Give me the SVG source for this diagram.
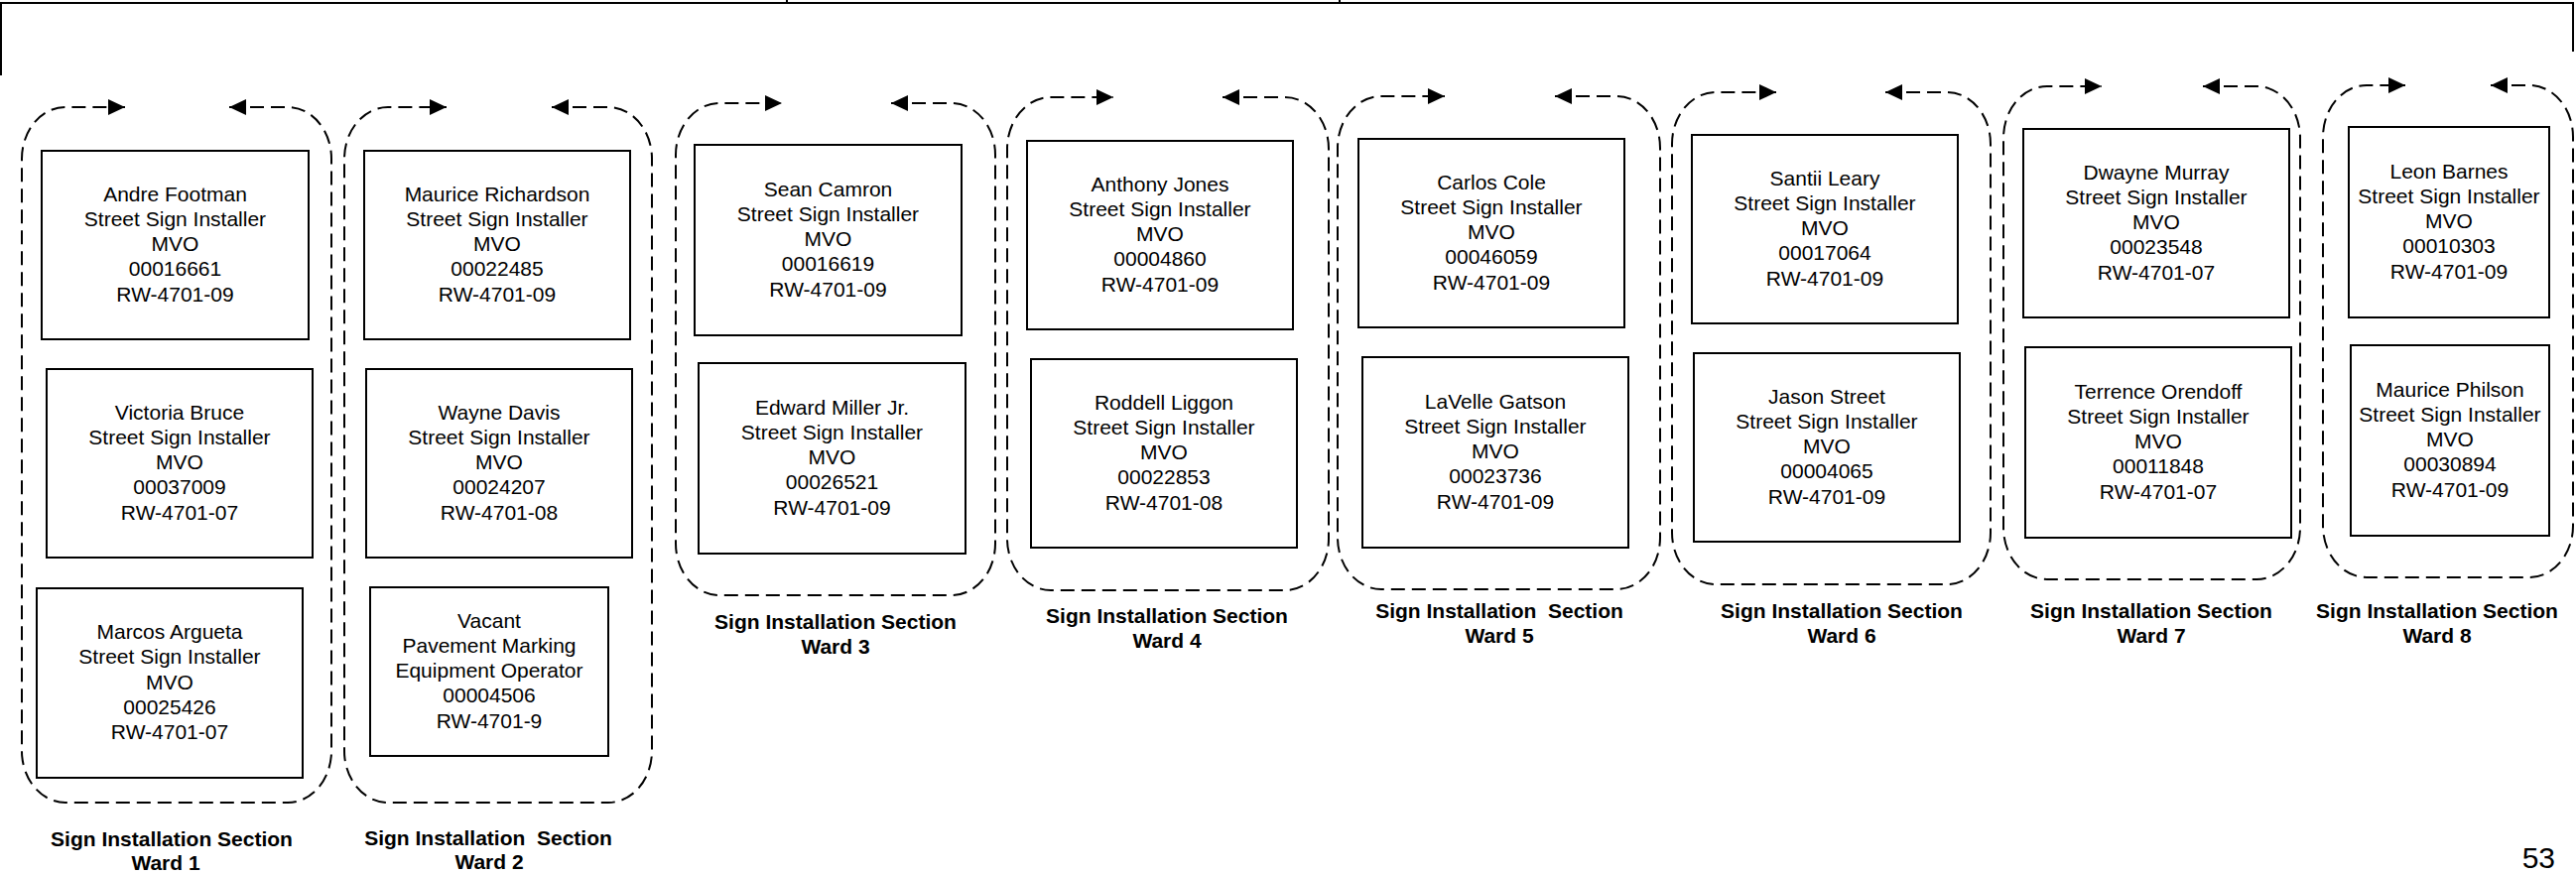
<svg xmlns="http://www.w3.org/2000/svg" width="2596" height="881" viewBox="0 0 2596 881">
<style>
.bg{fill:#fff}
.frame{fill:none;stroke:#000;stroke-width:2}
.box{fill:#fff;stroke:#000;stroke-width:2}
.t{font-family:"Liberation Sans",Arial,sans-serif;font-size:21px;text-anchor:middle;fill:#000}
.lbl{font-family:"Liberation Sans",Arial,sans-serif;font-size:21px;font-weight:bold;text-anchor:middle;fill:#000}
.conn{fill:none;stroke:#000;stroke-width:2;stroke-dasharray:14 7}
.pg{font-family:"Liberation Sans",Arial,sans-serif;font-size:30px;text-anchor:end;fill:#000}
</style>
<defs>
<marker id="ah" viewBox="0 0 17 16" refX="17" refY="8" markerWidth="17" markerHeight="16" markerUnits="userSpaceOnUse" orient="auto-start-reverse">
<path d="M0,0 L17,8 L0,16 Z" fill="#000"/>
</marker>
</defs>
<rect class="bg" x="0" y="0" width="2596" height="881"/>
<g id="frame">
<path class="frame" d="M1,76 V3 H2593 V52"/>
<line class="frame" x1="793" y1="0" x2="793" y2="3"/>
<line class="frame" x1="1350" y1="0" x2="1350" y2="3"/>
</g>
<g id="connectors">
<path class="conn" marker-start="url(#ah)" marker-end="url(#ah)" d="M231,108 H290 A44,52 0 0 1 334,160 V757 A44,52 0 0 1 290,809 H66 A44,52 0 0 1 22,757 V160 A44,52 0 0 1 66,108 H126"/>
<path class="conn" marker-start="url(#ah)" marker-end="url(#ah)" d="M556,108 H613 A44,52 0 0 1 657,160 V757 A44,52 0 0 1 613,809 H391 A44,52 0 0 1 347,757 V160 A44,52 0 0 1 391,108 H450"/>
<path class="conn" marker-start="url(#ah)" marker-end="url(#ah)" d="M898,104 H959 A44,52 0 0 1 1003,156 V548 A44,52 0 0 1 959,600 H725 A44,52 0 0 1 681,548 V156 A44,52 0 0 1 725,104 H788"/>
<path class="conn" marker-start="url(#ah)" marker-end="url(#ah)" d="M1232,98 H1295 A44,52 0 0 1 1339,150 V543 A44,52 0 0 1 1295,595 H1059 A44,52 0 0 1 1015,543 V150 A44,52 0 0 1 1059,98 H1122"/>
<path class="conn" marker-start="url(#ah)" marker-end="url(#ah)" d="M1567,97 H1629 A44,52 0 0 1 1673,149 V542 A44,52 0 0 1 1629,594 H1392 A44,52 0 0 1 1348,542 V149 A44,52 0 0 1 1392,97 H1456"/>
<path class="conn" marker-start="url(#ah)" marker-end="url(#ah)" d="M1900,93 H1962 A44,52 0 0 1 2006,145 V537 A44,52 0 0 1 1962,589 H1729 A44,52 0 0 1 1685,537 V145 A44,52 0 0 1 1729,93 H1790"/>
<path class="conn" marker-start="url(#ah)" marker-end="url(#ah)" d="M2220,87 H2274 A44,52 0 0 1 2318,139 V532 A44,52 0 0 1 2274,584 H2063 A44,52 0 0 1 2019,532 V139 A44,52 0 0 1 2063,87 H2118"/>
<path class="conn" marker-start="url(#ah)" marker-end="url(#ah)" d="M2510,86 H2549 A44,52 0 0 1 2593,138 V530 A44,52 0 0 1 2549,582 H2385 A44,52 0 0 1 2341,530 V138 A44,52 0 0 1 2385,86 H2424"/>
</g>

<g id="w1-andre-footman"><rect class="box" x="42" y="152" width="269" height="190"/><text class="t" x="176.5" y="202.7">Andre Footman<tspan x="176.5" dy="25.2">Street Sign Installer</tspan><tspan x="176.5" dy="25.2">MVO</tspan><tspan x="176.5" dy="25.2">00016661</tspan><tspan x="176.5" dy="25.2">RW-4701-09</tspan></text></g>
<g id="w1-victoria-bruce"><rect class="box" x="47" y="372" width="268" height="190"/><text class="t" x="181" y="422.7">Victoria Bruce<tspan x="181" dy="25.2">Street Sign Installer</tspan><tspan x="181" dy="25.2">MVO</tspan><tspan x="181" dy="25.2">00037009</tspan><tspan x="181" dy="25.2">RW-4701-07</tspan></text></g>
<g id="w1-marcos-argueta"><rect class="box" x="37" y="593" width="268" height="191"/><text class="t" x="171" y="644.2">Marcos Argueta<tspan x="171" dy="25.2">Street Sign Installer</tspan><tspan x="171" dy="25.2">MVO</tspan><tspan x="171" dy="25.2">00025426</tspan><tspan x="171" dy="25.2">RW-4701-07</tspan></text></g>

<g id="w2-maurice-richardson"><rect class="box" x="367" y="152" width="268" height="190"/><text class="t" x="501" y="202.7">Maurice Richardson<tspan x="501" dy="25.2">Street Sign Installer</tspan><tspan x="501" dy="25.2">MVO</tspan><tspan x="501" dy="25.2">00022485</tspan><tspan x="501" dy="25.2">RW-4701-09</tspan></text></g>
<g id="w2-wayne-davis"><rect class="box" x="369" y="372" width="268" height="190"/><text class="t" x="503" y="422.7">Wayne Davis<tspan x="503" dy="25.2">Street Sign Installer</tspan><tspan x="503" dy="25.2">MVO</tspan><tspan x="503" dy="25.2">00024207</tspan><tspan x="503" dy="25.2">RW-4701-08</tspan></text></g>
<g id="w2-vacant"><rect class="box" x="373" y="592" width="240" height="170"/><text class="t" x="493" y="632.7">Vacant<tspan x="493" dy="25.2">Pavement Marking</tspan><tspan x="493" dy="25.2">Equipment Operator</tspan><tspan x="493" dy="25.2">00004506</tspan><tspan x="493" dy="25.2">RW-4701-9</tspan></text></g>

<g id="w3-sean-camron"><rect class="box" x="700" y="146" width="269" height="192"/><text class="t" x="834.5" y="197.7">Sean Camron<tspan x="834.5" dy="25.2">Street Sign Installer</tspan><tspan x="834.5" dy="25.2">MVO</tspan><tspan x="834.5" dy="25.2">00016619</tspan><tspan x="834.5" dy="25.2">RW-4701-09</tspan></text></g>
<g id="w3-edward-miller"><rect class="box" x="704" y="366" width="269" height="192"/><text class="t" x="838.5" y="417.7">Edward Miller Jr.<tspan x="838.5" dy="25.2">Street Sign Installer</tspan><tspan x="838.5" dy="25.2">MVO</tspan><tspan x="838.5" dy="25.2">00026521</tspan><tspan x="838.5" dy="25.2">RW-4701-09</tspan></text></g>

<g id="w4-anthony-jones"><rect class="box" x="1035" y="142" width="268" height="190"/><text class="t" x="1169" y="192.7">Anthony Jones<tspan x="1169" dy="25.2">Street Sign Installer</tspan><tspan x="1169" dy="25.2">MVO</tspan><tspan x="1169" dy="25.2">00004860</tspan><tspan x="1169" dy="25.2">RW-4701-09</tspan></text></g>
<g id="w4-roddell-liggon"><rect class="box" x="1039" y="362" width="268" height="190"/><text class="t" x="1173" y="412.7">Roddell Liggon<tspan x="1173" dy="25.2">Street Sign Installer</tspan><tspan x="1173" dy="25.2">MVO</tspan><tspan x="1173" dy="25.2">00022853</tspan><tspan x="1173" dy="25.2">RW-4701-08</tspan></text></g>

<g id="w5-carlos-cole"><rect class="box" x="1369" y="140" width="268" height="190"/><text class="t" x="1503" y="190.7">Carlos Cole<tspan x="1503" dy="25.2">Street Sign Installer</tspan><tspan x="1503" dy="25.2">MVO</tspan><tspan x="1503" dy="25.2">00046059</tspan><tspan x="1503" dy="25.2">RW-4701-09</tspan></text></g>
<g id="w5-lavelle-gatson"><rect class="box" x="1373" y="360" width="268" height="192"/><text class="t" x="1507" y="411.7">LaVelle Gatson<tspan x="1507" dy="25.2">Street Sign Installer</tspan><tspan x="1507" dy="25.2">MVO</tspan><tspan x="1507" dy="25.2">00023736</tspan><tspan x="1507" dy="25.2">RW-4701-09</tspan></text></g>

<g id="w6-santii-leary"><rect class="box" x="1705" y="136" width="268" height="190"/><text class="t" x="1839" y="186.7">Santii Leary<tspan x="1839" dy="25.2">Street Sign Installer</tspan><tspan x="1839" dy="25.2">MVO</tspan><tspan x="1839" dy="25.2">00017064</tspan><tspan x="1839" dy="25.2">RW-4701-09</tspan></text></g>
<g id="w6-jason-street"><rect class="box" x="1707" y="356" width="268" height="190"/><text class="t" x="1841" y="406.7">Jason Street<tspan x="1841" dy="25.2">Street Sign Installer</tspan><tspan x="1841" dy="25.2">MVO</tspan><tspan x="1841" dy="25.2">00004065</tspan><tspan x="1841" dy="25.2">RW-4701-09</tspan></text></g>

<g id="w7-dwayne-murray"><rect class="box" x="2039" y="130" width="268" height="190"/><text class="t" x="2173" y="180.7">Dwayne Murray<tspan x="2173" dy="25.2">Street Sign Installer</tspan><tspan x="2173" dy="25.2">MVO</tspan><tspan x="2173" dy="25.2">00023548</tspan><tspan x="2173" dy="25.2">RW-4701-07</tspan></text></g>
<g id="w7-terrence-orendoff"><rect class="box" x="2041" y="350" width="268" height="192"/><text class="t" x="2175" y="401.7">Terrence Orendoff<tspan x="2175" dy="25.2">Street Sign Installer</tspan><tspan x="2175" dy="25.2">MVO</tspan><tspan x="2175" dy="25.2">00011848</tspan><tspan x="2175" dy="25.2">RW-4701-07</tspan></text></g>

<g id="w8-leon-barnes"><rect class="box" x="2367" y="128" width="202" height="192"/><text class="t" x="2468" y="179.7">Leon Barnes<tspan x="2468" dy="25.2">Street Sign Installer</tspan><tspan x="2468" dy="25.2">MVO</tspan><tspan x="2468" dy="25.2">00010303</tspan><tspan x="2468" dy="25.2">RW-4701-09</tspan></text></g>
<g id="w8-maurice-philson"><rect class="box" x="2369" y="348" width="200" height="192"/><text class="t" x="2469" y="399.7">Maurice Philson<tspan x="2469" dy="25.2">Street Sign Installer</tspan><tspan x="2469" dy="25.2">MVO</tspan><tspan x="2469" dy="25.2">00030894</tspan><tspan x="2469" dy="25.2">RW-4701-09</tspan></text></g>

<g id="label-ward1"><text class="lbl" x="173" y="853">Sign Installation Section</text><text class="lbl" x="167" y="877">Ward 1</text></g>
<g id="label-ward2"><text class="lbl" x="492" y="852" xml:space="preserve">Sign Installation  Section</text><text class="lbl" x="493" y="876">Ward 2</text></g>
<g id="label-ward3"><text class="lbl" x="842" y="634">Sign Installation Section</text><text class="lbl" x="842" y="659">Ward 3</text></g>
<g id="label-ward4"><text class="lbl" x="1176" y="628">Sign Installation Section</text><text class="lbl" x="1176" y="653">Ward 4</text></g>
<g id="label-ward5"><text class="lbl" x="1511" y="623" xml:space="preserve">Sign Installation  Section</text><text class="lbl" x="1511" y="648">Ward 5</text></g>
<g id="label-ward6"><text class="lbl" x="1856" y="623">Sign Installation Section</text><text class="lbl" x="1856" y="648">Ward 6</text></g>
<g id="label-ward7"><text class="lbl" x="2168" y="623">Sign Installation Section</text><text class="lbl" x="2168" y="648">Ward 7</text></g>
<g id="label-ward8"><text class="lbl" x="2456" y="623">Sign Installation Section</text><text class="lbl" x="2456" y="648">Ward 8</text></g>

<g id="page-number"><text class="pg" x="2575" y="875">53</text></g>
</svg>
